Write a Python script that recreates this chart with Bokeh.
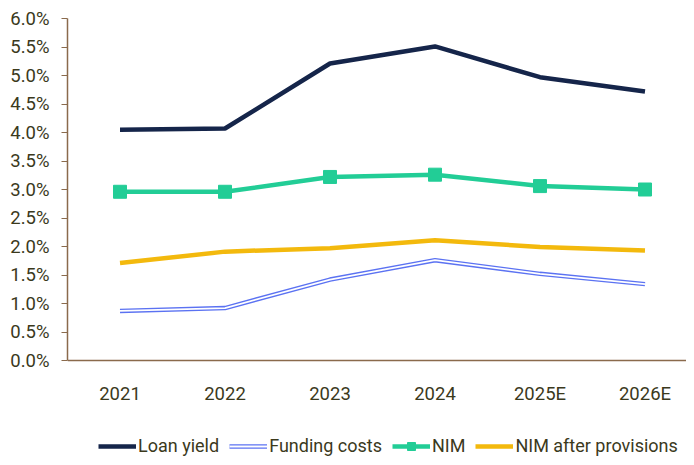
from bokeh.plotting import figure
from bokeh.models import Legend, LegendItem, FixedTicker, NumeralTickFormatter, Range1d, Span
from bokeh.core.properties import value
from bokeh.embed import file_html
from bokeh.resources import INLINE

years = ["2021", "2022", "2023", "2024", "2025E", "2026E"]
loan_yield = [4.05, 4.07, 5.21, 5.51, 4.97, 4.72]
funding_costs = [0.87, 0.92, 1.42, 1.76, 1.52, 1.34]
nim = [2.96, 2.96, 3.22, 3.26, 3.06, 3.00]
nim_after_prov = [1.71, 1.91, 1.97, 2.11, 1.99, 1.93]
y_ticks = [0.0, 0.5, 1.0, 1.5, 2.0, 2.5, 3.0, 3.5, 4.0, 4.5, 5.0, 5.5, 6.0]

xs = list(range(len(years)))
y_frac = [v / 100 for v in y_ticks]

FONT = "Roboto"
TXT = "#3b391c"
AX = "#8a6a4c"

W, H = 686, 457
LEFT, TOP = 67, 18
ZERO_PX = 360          # pixel row of 0%
Y_MAX = 0.06
plot_px = ZERO_PX - TOP
y_min = -Y_MAX * (H - ZERO_PX) / plot_px
step_px = 105
x_max = -0.5 + (W - LEFT) / step_px

p = figure(width=W, height=H, output_backend="svg", toolbar_location=None,
           x_range=Range1d(-0.5, x_max), y_range=Range1d(y_min, Y_MAX),
           min_border_left=LEFT, min_border_right=0, min_border_top=TOP, min_border_bottom=0,
           x_axis_location=None)
p.outline_line_color = None
p.grid.grid_line_color = None
p.background_fill_color = "white"

p.yaxis.ticker = FixedTicker(ticks=y_frac)
p.yaxis.bounds = (0, Y_MAX)
p.yaxis.formatter = NumeralTickFormatter(format="0.0%")
p.yaxis.axis_line_color = AX
p.yaxis.axis_line_width = 1.5
p.yaxis.major_tick_line_color = AX
p.yaxis.major_tick_out = 6
p.yaxis.major_tick_in = 0
p.yaxis.minor_tick_line_color = None
p.yaxis.major_label_text_font = FONT
p.yaxis.major_label_text_font_size = "18.5px"
p.yaxis.major_label_text_color = TXT
p.yaxis.major_label_standoff = 12

# category axis along the 0% line
p.add_layout(Span(location=0, dimension="width", line_color=AX, line_width=1.5))
p.text(x=xs, y=[0] * len(xs), text=years, y_offset=33,
       text_align="center", text_baseline="middle",
       text_font=value(FONT), text_font_size="18.5px", text_color=TXT)

ly = [v / 100 for v in loan_yield]
fc = [v / 100 for v in funding_costs]
nm = [v / 100 for v in nim]
nap = [v / 100 for v in nim_after_prov]

r_ly = p.line(xs, ly, line_color="#15254a", line_width=4.5)
r_fc1 = p.line(xs, fc, line_color="#5b72f2", line_width=4.5)
r_fc2 = p.line(xs, fc, line_color="white", line_width=1.8)
r_nim = p.line(xs, nm, line_color="#22cd96", line_width=4.5)
r_nimm = p.scatter(xs, nm, marker="square", size=13, fill_color="#22cd96", line_color="#22cd96")
r_nap = p.line(xs, nap, line_color="#f3b90d", line_width=4.5)

legend = Legend(items=[
    LegendItem(label="Loan yield", renderers=[r_ly]),
    LegendItem(label="Funding costs", renderers=[r_fc1, r_fc2]),
    LegendItem(label="NIM", renderers=[r_nim, r_nimm]),
    LegendItem(label="NIM after provisions", renderers=[r_nap]),
], orientation="horizontal", location=(31, 1))
legend.label_text_font = FONT
legend.label_text_font_size = "18px"
legend.label_text_color = TXT
legend.glyph_width = 38
legend.label_standoff = 2
legend.spacing = 10
legend.padding = 0
legend.margin = 0
legend.border_line_color = None
legend.background_fill_alpha = 0
p.add_layout(legend)

open("out.html", "w").write(file_html(p, INLINE))
